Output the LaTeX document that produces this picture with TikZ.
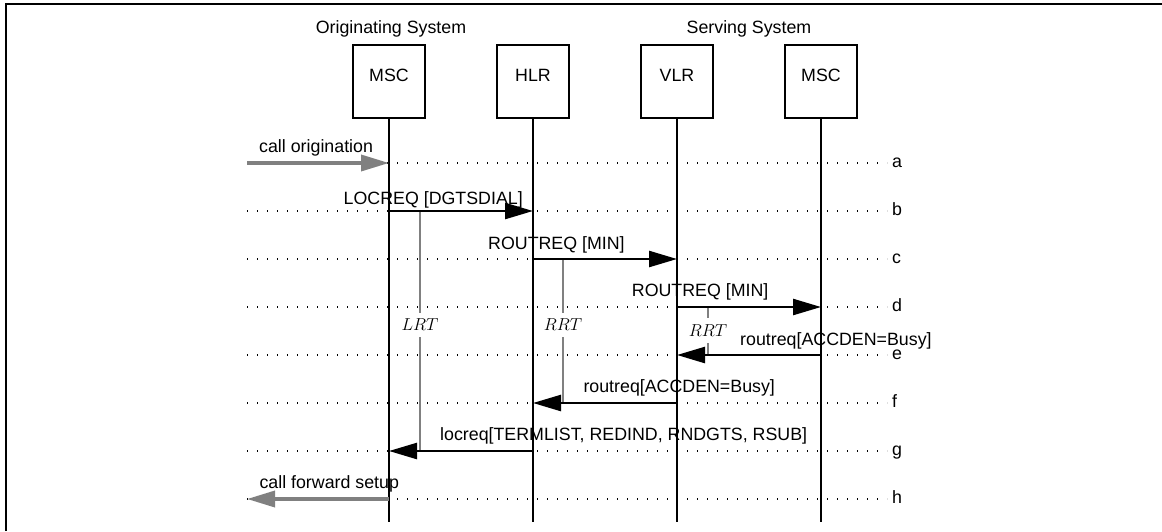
\documentclass[tikz,border=0pt]{standalone}
\usepackage{fontspec}
\setmainfont{Liberation Sans}
\usepackage{tikz}
\usetikzlibrary{arrows.meta}
\definecolor{extgray}{RGB}{128,128,128}

\begin{document}
\begin{tikzpicture}[
    x=1pt, y=-1pt,
    every node/.style={font=\fontsize{17.8}{20}\selectfont},
    entity/.style={rectangle, draw, line width=2pt, minimum width=72pt, minimum height=73pt, anchor=north, text depth=12pt},
    sysname/.style={anchor=base, inner sep=0pt},
    lifeline/.style={line width=2.5pt},
    guide/.style={line width=1.3pt, dash pattern=on 1.3pt off 8.7pt},
    rowlabel/.style={anchor=west, inner sep=0pt, text height=9.3pt, text depth=0pt},
    msg/.style={-{Triangle[length=28pt, width=16pt]}, line width=2.5pt},
    extmsg/.style={msg, draw=extgray, line width=3.5pt},
    msglabel/.style={anchor=base west, inner sep=0pt},
    timer/.style={draw=extgray, line width=2.3pt},
    timerlabel/.style={font=\fontsize{16}{18}\selectfont, inner sep=0pt, minimum height=24pt}
]

\useasboundingbox (0,0) rectangle (1162,531);

% Frame (top and left only)
\draw[line width=2.4pt] (5.7,531) -- (5.7,4.2) -- (1162,4.2);

% System names
\node[sysname] (orig) at (391,33) {Originating System};
\node[sysname] (serv) at (749,33) {Serving System};

% Entities
\node[entity] (msca) at (389,44) {MSC};
\node[entity] (hlr) at (533,44) {HLR};
\node[entity] (vlr) at (677,44) {VLR};
\node[entity] (mscb) at (821,44) {MSC};

% Rows (start and end of the dotted guides)
\coordinate (ra) at (247,163); \coordinate (ra-end) at (887,163);
\coordinate (rb) at (247,211); \coordinate (rb-end) at (887,211);
\coordinate (rc) at (247,259); \coordinate (rc-end) at (887,259);
\coordinate (rd) at (247,307); \coordinate (rd-end) at (887,307);
\coordinate (re) at (247,355); \coordinate (re-end) at (887,355);
\coordinate (rf) at (247,403); \coordinate (rf-end) at (887,403);
\coordinate (rg) at (247,451); \coordinate (rg-end) at (887,451);
\coordinate (rh) at (247,499); \coordinate (rh-end) at (887,499);
\coordinate (bottom) at (247,522);

\foreach \r in {a,b,c,d,e,f,g,h}{
    \draw[guide] (r\r) -- (r\r-end);
    \node[rowlabel] (l\r) at ([xshift=5pt]r\r-end) {\r};
}

% Lifelines
\draw[lifeline] (msca.south) -- (msca |- bottom);
\draw[lifeline] (hlr.south) -- (hlr |- bottom);
\draw[lifeline] (vlr.south) -- (vlr |- bottom);
\draw[lifeline] (mscb.south) -- (mscb |- bottom);

% Timers
\node[timerlabel] (lrt) at (420,325) {$LRT$};
\node[timerlabel] (rrta) at (563,325) {$RRT$};
\node[timerlabel, minimum height=25pt] (rrtb) at (708,330.5) {$RRT$};
\draw[timer] (lrt |- rb) -- (lrt.north); \draw[timer] (lrt.south) -- (lrt |- rg);
\draw[timer] (rrta |- rc) -- (rrta.north); \draw[timer] (rrta.south) -- (rrta |- rf);
\draw[timer] (rrtb |- rd) -- (rrtb.north); \draw[timer] (rrtb.south) -- (rrtb |- re);

% Messages
\draw[extmsg] (ra) -- (msca |- ra);
\draw[msg] (msca |- rb) -- (hlr |- rb);
\draw[msg] (hlr |- rc) -- (vlr |- rc);
\draw[msg] (vlr |- rd) -- (mscb |- rd);
\draw[msg] (mscb |- re) -- (vlr |- re);
\draw[msg] (vlr |- rf) -- (hlr |- rf);
\draw[msg] (hlr |- rg) -- (msca |- rg);
\draw[extmsg] (msca |- rh) -- (rh);

% Message labels
\node[msglabel] (ma) at (259,152) {call origination};
\node[msglabel] (mb) at (343.5,204) {LOCREQ [DGTSDIAL]};
\node[msglabel] (mc) at (488,249) {ROUTREQ [MIN]};
\node[msglabel] (md) at (631.7,296) {ROUTREQ [MIN]};
\node[msglabel] (me) at (740,345) {routreq[ACCDEN=Busy]};
\node[msglabel] (mf) at (583.3,392.5) {routreq[ACCDEN=Busy]};
\node[msglabel] (mg) at (440,440.5) {locreq[TERMLIST, REDIND, RNDGTS, RSUB]};
\node[msglabel] (mh) at (259.3,488) {call forward setup};

\end{tikzpicture}
\end{document}
